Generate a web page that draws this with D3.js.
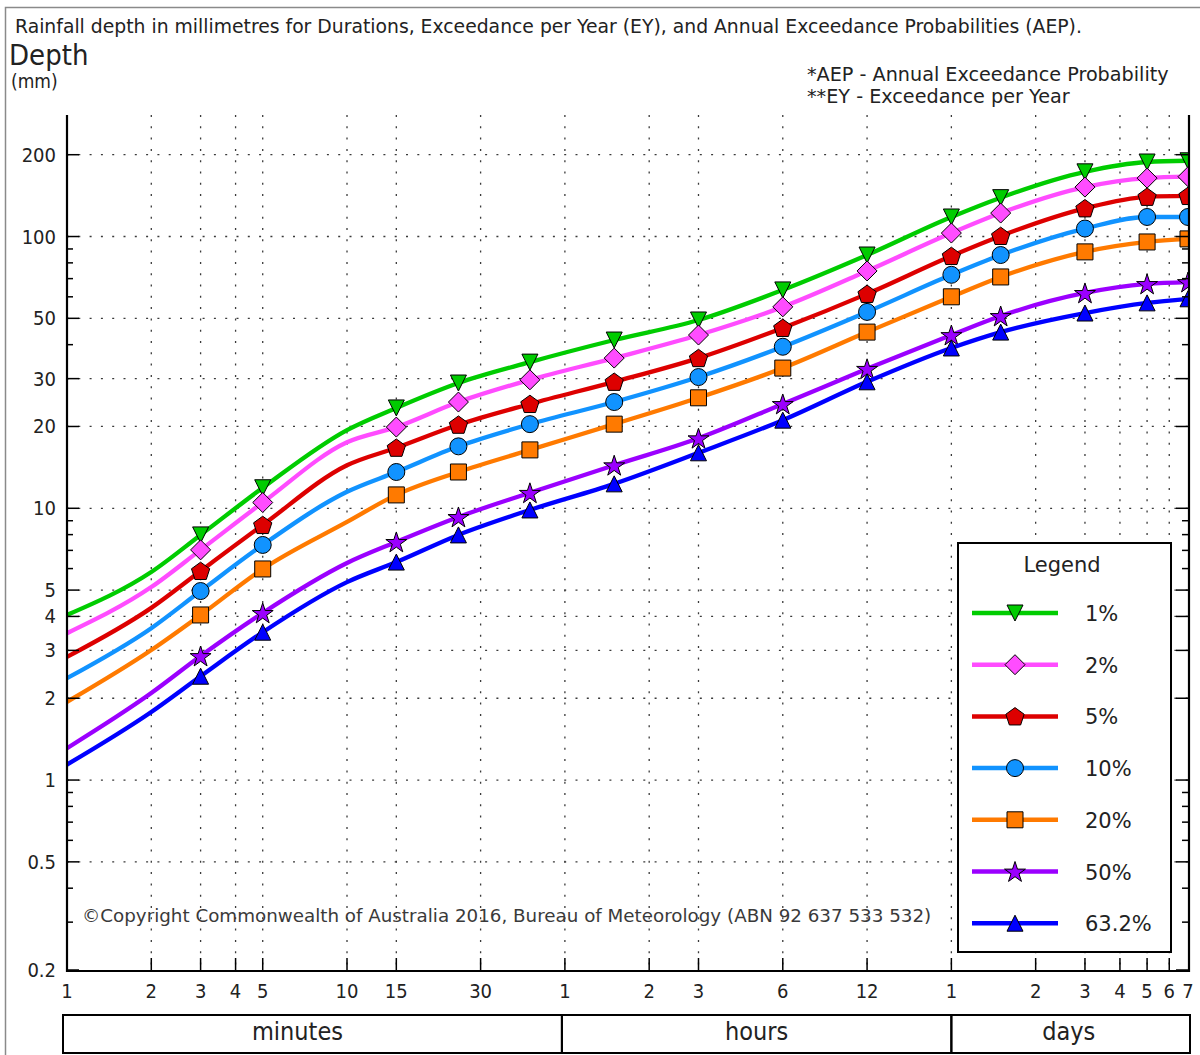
<!DOCTYPE html>
<html>
<head>
<meta charset="utf-8">
<script src="https://cdnjs.cloudflare.com/ajax/libs/d3/7.8.5/d3.min.js"></script>
<style>
  body { margin: 0; background: #fff; }
  svg text { font-family: "DejaVu Sans", sans-serif; fill: #222; }
</style>
</head>
<body>
<div id="chart"></div>
<script>
// durations (minutes) that the curves pass through
var durations = [1, 2, 3, 5, 10, 15, 25, 45, 90, 180, 360, 720, 1440, 2160, 4320, 7200, 10080];
// durations that carry a marker
var markerDurations = [3, 5, 15, 25, 45, 90, 180, 360, 720, 1440, 2160, 4320, 7200, 10080];

var aepLabels = ["1%", "2%", "5%", "10%", "20%", "50%", "63.2%"];

// rainfall depth (mm), one array per AEP
var depth1 = [4.05, 5.83, 7.98, 11.9, 19.4, 23.4, 28.9, 34.5, 41.6, 49.3, 63.6, 85.5, 118, 139, 173, 188, 190];
var depth2 = [3.47, 5.13, 7.03, 10.5, 17.5, 19.9, 24.6, 29.7, 35.7, 43.4, 55.1, 74.7, 103, 122, 152, 164, 166];
var depth5 = [2.84, 4.30, 5.88, 8.68, 14.4, 16.7, 20.3, 24.2, 29.2, 35.7, 46.1, 61.5, 84.8, 100.5, 127, 140, 141];
var depth10 = [2.37, 3.62, 4.96, 7.33, 11.5, 13.6, 16.9, 20.4, 24.6, 30.4, 39.3, 52.8, 72.3, 85.5, 107, 118, 118];
var depth20 = [1.94, 3.01, 4.05, 5.98, 8.91, 11.2, 13.6, 16.4, 20.4, 25.5, 32.8, 44.5, 60.0, 71.0, 87.8, 95.5, 98];
var depth50 = [1.31, 2.09, 2.86, 4.12, 6.29, 7.52, 9.29, 11.4, 14.4, 18.1, 24.2, 32.6, 43.4, 51.0, 62.0, 66.9, 68];
var depth632 = [1.14, 1.78, 2.41, 3.50, 5.35, 6.34, 7.98, 9.86, 12.3, 16.0, 21.1, 29.2, 38.9, 44.5, 52.3, 57.0, 59];

var xTickValues = [1, 2, 3, 4, 5, 10, 15, 30, 60, 120, 180, 360, 720, 1440, 2880, 4320, 5760, 7200, 8640, 10080];
var xTickLabels = ["1", "2", "3", "4", "5", "10", "15", "30", "1", "2", "3", "6", "12", "1", "2", "3", "4", "5", "6", "7"];
var yTickValues = [0.2, 0.5, 1, 2, 3, 4, 5, 10, 20, 30, 50, 100, 200];
var yMinorTicks = [0.3, 0.4, 0.6, 0.7, 0.8, 0.9, 6, 7, 8, 9, 40, 60, 70, 80, 90];

var unitNames = ["minutes", "hours", "days"];
var unitBounds = [1, 60, 1440, 10080];

// styles
var colors = ["#00cc00", "#ff4cff", "#dd0000", "#1193ff", "#ff7a00", "#9b00ff", "#0000ff"];
var shapes = ["triangleDown", "diamond", "pentagon", "circle", "square", "star", "triangleUp"];
var unitLabelShift = [-15, 0, -2];
var sx = 0.9; // axis text in the picture is a little condensed

var width = 1200, height = 1055;
var plot = { left: 67, right: 1188, top: 115, bottom: 970 };

var series = [depth1, depth2, depth5, depth10, depth20, depth50, depth632].map(function (v, i) {
    return { label: aepLabels[i], values: v, color: colors[i], shape: shapes[i] };
});

var x = d3.scaleLog().domain([1, 10080]).range([plot.left, plot.right]);
var y = d3.scaleLog().domain([0.2, 280]).range([plot.bottom, plot.top]);

var svg = d3.select("#chart").append("svg")
    .attr("width", width)
    .attr("height", height);

// outer frame (left and top edges are all that show)
svg.append("path")
    .attr("d", "M5.5," + height + "V7.5H" + width)
    .attr("fill", "none")
    .attr("stroke", "#8a8a8a")
    .attr("stroke-width", 1.5);

function placed(sel, tx, ty, k) {
    return sel.attr("transform", "translate(" + tx + "," + ty + ") scale(" + k + ",1)");
}

placed(svg.append("text"), 15, 33, 1)
    .style("font-size", "18.8px")
    .text("Rainfall depth in millimetres for Durations, Exceedance per Year (EY), and Annual Exceedance Probabilities (AEP).");
placed(svg.append("text"), 9, 65, sx)
    .style("font-size", "29px")
    .text("Depth");
placed(svg.append("text"), 11, 88, sx)
    .style("font-size", "19px")
    .text("(mm)");
placed(svg.append("text"), 807, 80.5, 1)
    .style("font-size", "19.2px")
    .text("*AEP - Annual Exceedance Probability");
placed(svg.append("text"), 807, 103, 1)
    .style("font-size", "19.2px")
    .text("**EY - Exceedance per Year");

// ****************** grid ***************************
var grid = svg.append("g")
    .attr("stroke", "#3a3a3a")
    .attr("stroke-width", 1.3)
    .attr("stroke-dasharray", "2,9.3");

grid.selectAll("line.vgrid")
    .data(xTickValues.slice(1, -1))
    .enter().append("line")
    .attr("class", "vgrid")
    .attr("x1", function (d) { return x(d); })
    .attr("x2", function (d) { return x(d); })
    .attr("y1", plot.top)
    .attr("y2", plot.bottom);

grid.selectAll("line.hgrid")
    .data(yTickValues.slice(1))
    .enter().append("line")
    .attr("class", "hgrid")
    .attr("x1", plot.left)
    .attr("x2", plot.right)
    .attr("y1", function (d) { return y(d); })
    .attr("y2", function (d) { return y(d); });

// copyright note inside the plot
placed(svg.append("text"), 82, 922, 1)
    .style("font-size", "18.3px")
    .style("fill", "#3a3a3a")
    .text("\u00A9Copyright Commonwealth of Australia 2016, Bureau of Meteorology (ABN 92 637 533 532)");

// ****************** markers ***************************
function markerPath(shape) {
    var pts, i, a, r;
    switch (shape) {
        case "triangleDown": return "M0,8L-8,-8L8,-8Z";
        case "triangleUp": return "M0,-8L-8,8L8,8Z";
        case "diamond": return "M0,-10L10,0L0,10L-10,0Z";
        case "square": return "M-8,-8H8V8H-8Z";
        case "circle": return d3.symbol(d3.symbolCircle, Math.PI * 8.5 * 8.5)();
        case "pentagon":
            pts = [];
            for (i = 0; i < 5; i++) {
                a = -Math.PI / 2 + i * 2 * Math.PI / 5;
                pts.push([9.6 * Math.cos(a), 9.6 * Math.sin(a) + 0.8]);
            }
            return "M" + pts.join("L") + "Z";
        case "star":
            pts = [];
            for (i = 0; i < 10; i++) {
                a = -Math.PI / 2 + i * Math.PI / 5;
                r = i % 2 ? 4.2 : 11;
                pts.push([r * Math.cos(a), r * Math.sin(a) + 1]);
            }
            return "M" + pts.join("L") + "Z";
    }
}

// ****************** curves ***************************
svg.append("clipPath").attr("id", "plot-clip")
    .append("rect")
    .attr("x", plot.left)
    .attr("y", plot.top)
    .attr("width", plot.right - plot.left)
    .attr("height", plot.bottom - plot.top);

var line = d3.line()
    .x(function (d) { return x(d[0]); })
    .y(function (d) { return y(d[1]); })
    .curve(d3.curveMonotoneX);

var plotArea = svg.append("g").attr("clip-path", "url(#plot-clip)");

var seriesG = plotArea.selectAll("g.series")
    .data(series)
    .enter().append("g")
    .attr("class", "series");

seriesG.append("path")
    .attr("fill", "none")
    .attr("stroke", function (d) { return d.color; })
    .attr("stroke-width", 4.3)
    .attr("stroke-linejoin", "round")
    .attr("d", function (d) {
        return line(durations.map(function (t, i) { return [t, d.values[i]]; }));
    });

seriesG.each(function (s) {
    d3.select(this).selectAll("path.marker")
        .data(markerDurations.map(function (t) { return [t, s.values[durations.indexOf(t)]]; }))
        .enter().append("path")
        .attr("class", "marker")
        .attr("d", markerPath(s.shape))
        .attr("transform", function (d) { return "translate(" + x(d[0]) + "," + y(d[1]) + ")"; })
        .attr("fill", s.color)
        .attr("stroke", "#000")
        .attr("stroke-width", 1);
});

// ****************** axes ***************************
var axes = svg.append("g").attr("stroke", "#000");

axes.append("path")
    .attr("d", "M" + plot.left + "," + plot.top + "V" + (plot.bottom + 1) + "H" + (plot.right + 1) + "V" + plot.top)
    .attr("fill", "none")
    .attr("stroke-width", 2.2);

// y ticks, on both sides, pointing inward
var yTicks = yTickValues.map(function (v) { return { v: v, len: 12 }; })
    .concat(yMinorTicks.map(function (v) { return { v: v, len: 6 }; }));

axes.selectAll("line.ytick-l")
    .data(yTicks)
    .enter().append("line")
    .attr("class", "ytick-l")
    .attr("stroke-width", 1.5)
    .attr("x1", plot.left)
    .attr("x2", function (d) { return plot.left + d.len; })
    .attr("y1", function (d) { return y(d.v); })
    .attr("y2", function (d) { return y(d.v); });

axes.selectAll("line.ytick-r")
    .data(yTicks)
    .enter().append("line")
    .attr("class", "ytick-r")
    .attr("stroke-width", 1.5)
    .attr("x1", plot.right)
    .attr("x2", function (d) { return plot.right - d.len; })
    .attr("y1", function (d) { return y(d.v); })
    .attr("y2", function (d) { return y(d.v); });

axes.selectAll("line.xtick")
    .data(xTickValues.slice(1, -1))
    .enter().append("line")
    .attr("class", "xtick")
    .attr("stroke-width", 1.5)
    .attr("x1", function (d) { return x(d); })
    .attr("x2", function (d) { return x(d); })
    .attr("y1", plot.bottom)
    .attr("y2", plot.bottom - 12);

svg.selectAll("text.ylabel")
    .data(yTickValues)
    .enter().append("text")
    .attr("class", "ylabel")
    .style("font-size", "20px")
    .attr("text-anchor", "end")
    .attr("transform", function (d) { return "translate(56," + (y(d) + 7) + ") scale(" + sx + ",1)"; })
    .text(function (d) { return d; });

svg.selectAll("text.xlabel")
    .data(xTickValues)
    .enter().append("text")
    .attr("class", "xlabel")
    .style("font-size", "20px")
    .attr("text-anchor", "middle")
    .attr("transform", function (d) { return "translate(" + x(d) + ",998) scale(" + sx + ",1)"; })
    .text(function (d, i) { return xTickLabels[i]; });

// ****************** unit boxes ***************************
var units = unitNames.map(function (n, i) {
    return { name: n, x0: x(unitBounds[i]), x1: x(unitBounds[i + 1]), shift: unitLabelShift[i] };
});
units[0].x0 -= 4;
units[0].x1 -= 3;
units[1].x0 -= 3;
units[2].x1 += 2;

var unitG = svg.selectAll("g.unit")
    .data(units)
    .enter().append("g")
    .attr("class", "unit");

unitG.append("rect")
    .attr("x", function (d) { return d.x0; })
    .attr("y", 1015)
    .attr("width", function (d) { return d.x1 - d.x0; })
    .attr("height", 38)
    .attr("fill", "none")
    .attr("stroke", "#000")
    .attr("stroke-width", 2);

unitG.append("text")
    .style("font-size", "25px")
    .attr("text-anchor", "middle")
    .attr("transform", function (d) { return "translate(" + ((d.x0 + d.x1) / 2 + d.shift) + ",1040) scale(" + sx + ",1)"; })
    .text(function (d) { return d.name; });

// ****************** legend ***************************
var legend = svg.append("g").attr("transform", "translate(958,543)");

legend.append("rect")
    .attr("width", 213)
    .attr("height", 409)
    .attr("fill", "#fff")
    .attr("stroke", "#000")
    .attr("stroke-width", 2);

legend.append("text")
    .attr("x", 104)
    .attr("y", 29)
    .attr("text-anchor", "middle")
    .style("font-size", "21px")
    .text("Legend");

var entry = legend.selectAll("g.entry")
    .data(series)
    .enter().append("g")
    .attr("class", "entry")
    .attr("transform", function (d, i) { return "translate(0," + (70 + i * 51.7) + ")"; });

entry.append("line")
    .attr("x1", 14)
    .attr("x2", 100)
    .attr("stroke", function (d) { return d.color; })
    .attr("stroke-width", 4.5);

entry.append("path")
    .attr("d", function (d) { return markerPath(d.shape); })
    .attr("transform", "translate(57,0)")
    .attr("fill", function (d) { return d.color; })
    .attr("stroke", "#000")
    .attr("stroke-width", 1);

entry.append("text")
    .attr("x", 127)
    .attr("y", 8)
    .style("font-size", "21px")
    .text(function (d) { return d.label; });
</script>
</body>
</html>
